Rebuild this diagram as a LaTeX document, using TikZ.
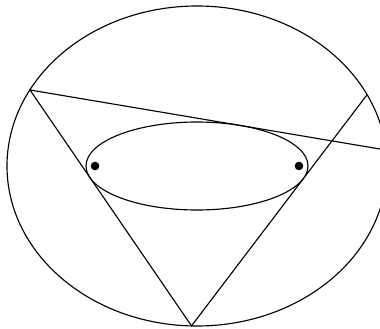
\documentclass[tikz,border=0pt]{standalone}
\usepackage{tikz}
\usetikzlibrary{calc}

\tikzset{
    curve/.style={line width=0.8pt, black},
    focus/.style={fill=black},
}

\begin{document}
\begin{tikzpicture}[x=0.025cm, y=-0.025cm]
    % Frame
    \useasboundingbox (0,0) rectangle (380,328);
    \clip (0,0) rectangle (380,328);

    % Points
    \coordinate (O) at (197,166);
    \coordinate (A) at (30,90);
    \coordinate (B) at (191.5,325.9);
    \coordinate (C) at (367,94.8);
    \coordinate (T) at (240.5,125.5);
    \coordinate (E) at ($(A)!2!(T)$);

    % Outer and inner ellipses
    \draw[curve] (O) ellipse [x radius=190, y radius=160];
    \draw[curve] (O) ellipse [x radius=111, y radius=44];

    % Tangent lines
    \draw[curve] (E) -- (A) -- (B) -- (C);

    % Foci
    \foreach \fx in {95, 299} {
        \fill[focus] (\fx,166) circle (4.3);
    }
\end{tikzpicture}
\end{document}
